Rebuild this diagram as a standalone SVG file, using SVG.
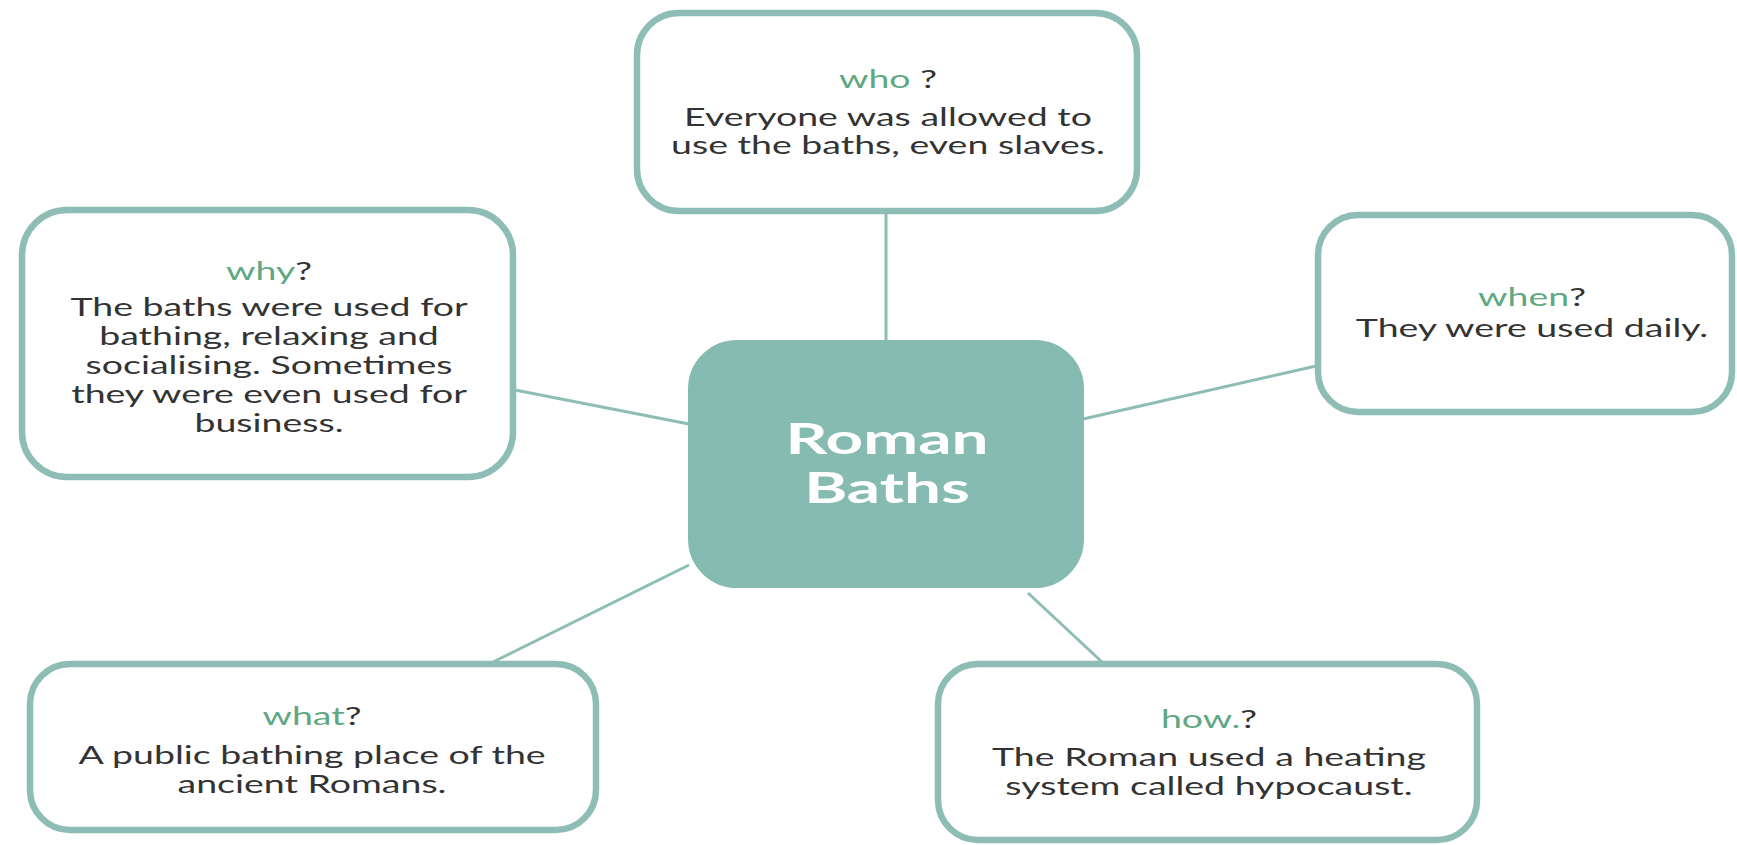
<svg xmlns="http://www.w3.org/2000/svg" width="1737" height="845" viewBox="0 0 1737 845">
<style>
.box{fill:#ffffff;stroke:#8dbdb5;stroke-width:6.5}
.hub{fill:#86bbb2;stroke:#86bbb2;stroke-width:2}
.conn{stroke:#8dbdb5;stroke-width:3;fill:none}
.t{font-family:Lato,"Open Sans",sans-serif;font-size:25px;fill:#333333;text-anchor:middle}
.q{fill:#5fa882}
.h{font-family:Lato,"Open Sans",sans-serif;font-size:41px;font-weight:bold;fill:#ffffff;text-anchor:middle}
</style>
<rect width="1737" height="845" fill="#ffffff"/>
<g id="connectors">
<line class="conn" x1="886" y1="213" x2="886" y2="341"/>
<line class="conn" x1="515" y1="390" x2="689" y2="424"/>
<line class="conn" x1="1316" y1="366" x2="1083" y2="419"/>
<line class="conn" x1="493" y1="662" x2="689" y2="565"/>
<line class="conn" x1="1102" y1="662" x2="1028" y2="593"/>
</g>
<g id="who">
<rect class="box" x="637" y="13" width="500" height="198" rx="42"/>
<g transform="translate(888,0) scale(1.5,1)">
<text class="t" x="0" y="88"><tspan class="q">who</tspan> ?</text>
<text class="t" x="0" y="126">Everyone was allowed to</text>
<text class="t" x="0" y="154">use the baths, even slaves.</text>
</g>
</g>
<g id="why">
<rect class="box" x="22" y="210" width="491" height="267" rx="45"/>
<g transform="translate(269,0) scale(1.5,1)">
<text class="t" x="0" y="280"><tspan class="q">why</tspan>?</text>
<text class="t" x="0" y="316">The baths were used for</text>
<text class="t" x="0" y="345">bathing, relaxing and</text>
<text class="t" x="0" y="374">socialising. Sometimes</text>
<text class="t" x="0" y="403">they were even used for</text>
<text class="t" x="0" y="432">business.</text>
</g>
</g>
<g id="when">
<rect class="box" x="1318" y="215" width="414" height="197" rx="40"/>
<g transform="translate(1532,0) scale(1.5,1)">
<text class="t" x="0" y="306"><tspan class="q">when</tspan>?</text>
<text class="t" x="0" y="337">They were used daily.</text>
</g>
</g>
<g id="hub">
<rect class="hub" x="689" y="341" width="394" height="246" rx="48"/>
<g transform="translate(887,0) scale(1.6,1)">
<text class="h" x="0" y="454">Roman</text>
<text class="h" x="0" y="503">Baths</text>
</g>
</g>
<g id="what">
<rect class="box" x="30" y="664" width="566" height="166" rx="40"/>
<g transform="translate(312,0) scale(1.5,1)">
<text class="t" x="0" y="725"><tspan class="q">what</tspan>?</text>
<text class="t" x="0" y="764">A public bathing place of the</text>
<text class="t" x="0" y="793">ancient Romans.</text>
</g>
</g>
<g id="how">
<rect class="box" x="938" y="664" width="539" height="176" rx="40"/>
<g transform="translate(1209,0) scale(1.5,1)">
<text class="t" x="0" y="728"><tspan class="q">how.</tspan>?</text>
<text class="t" x="0" y="766">The Roman used a heating</text>
<text class="t" x="0" y="795">system called hypocaust.</text>
</g>
</g>
</svg>
